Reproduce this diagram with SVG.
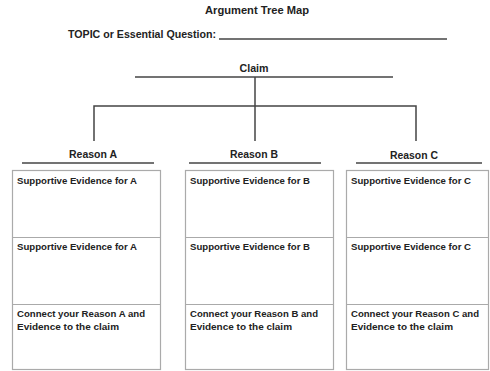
<svg xmlns="http://www.w3.org/2000/svg" width="490" height="371" viewBox="0 0 490 371">
<style>
text{font-family:"Liberation Sans",Arial,sans-serif;font-weight:bold;fill:#222;}
.h{font-size:10.5px;text-anchor:middle;}
.t{font-size:9.2px;}
.ln{stroke:#444;stroke-width:1.5;fill:none;}
.bx{stroke:#aaa;stroke-width:1.2;fill:#fff;}
</style>
<rect width="490" height="371" fill="#fff"/>
<g id="title">
<text class="h" x="257" y="14" textLength="104" lengthAdjust="spacingAndGlyphs">Argument Tree Map</text>
<text x="68" y="38" font-size="10.5" textLength="148" lengthAdjust="spacingAndGlyphs">TOPIC or Essential Question:</text>
<line class="ln" x1="219" y1="39" x2="447" y2="39"/>
</g>
<g id="claim">
<text class="h" x="254" y="72" textLength="29" lengthAdjust="spacingAndGlyphs">Claim</text>
<line class="ln" x1="135" y1="77" x2="393" y2="77"/>
</g>
<g id="connectors">
<line class="ln" x1="255" y1="77" x2="255" y2="141"/>
<polyline class="ln" points="94,141 94,106 416,106 416,141"/>
</g>
<g id="reasonA">
<text class="h" x="93" y="158" textLength="48" lengthAdjust="spacingAndGlyphs">Reason A</text>
<line class="ln" x1="22" y1="163" x2="154" y2="163"/>
<rect class="bx" x="12.5" y="170.5" width="148" height="199"/>
<line class="bx" x1="12.5" y1="237.5" x2="160.5" y2="237.5"/>
<line class="bx" x1="12.5" y1="304.5" x2="160.5" y2="304.5"/>
<text class="t" x="17" y="184" textLength="120" lengthAdjust="spacingAndGlyphs">Supportive Evidence for A</text>
<text class="t" x="17" y="250" textLength="120" lengthAdjust="spacingAndGlyphs">Supportive Evidence for A</text>
<text class="t" x="17" y="317" textLength="128" lengthAdjust="spacingAndGlyphs">Connect your Reason A and</text>
<text class="t" x="17" y="330" textLength="102" lengthAdjust="spacingAndGlyphs">Evidence to the claim</text>
</g>
<g id="reasonB">
<text class="h" x="254" y="158" textLength="48" lengthAdjust="spacingAndGlyphs">Reason B</text>
<line class="ln" x1="189" y1="163" x2="321" y2="163"/>
<rect class="bx" x="185.5" y="170.5" width="148" height="199"/>
<line class="bx" x1="185.5" y1="237.5" x2="333.5" y2="237.5"/>
<line class="bx" x1="185.5" y1="304.5" x2="333.5" y2="304.5"/>
<text class="t" x="190" y="184" textLength="120" lengthAdjust="spacingAndGlyphs">Supportive Evidence for B</text>
<text class="t" x="190" y="250" textLength="120" lengthAdjust="spacingAndGlyphs">Supportive Evidence for B</text>
<text class="t" x="190" y="317" textLength="128" lengthAdjust="spacingAndGlyphs">Connect your Reason B and</text>
<text class="t" x="190" y="330" textLength="102" lengthAdjust="spacingAndGlyphs">Evidence to the claim</text>
</g>
<g id="reasonC">
<text class="h" x="414" y="159" textLength="48" lengthAdjust="spacingAndGlyphs">Reason C</text>
<line class="ln" x1="356" y1="163" x2="482" y2="163"/>
<rect class="bx" x="346.5" y="170.5" width="142" height="199"/>
<line class="bx" x1="346.5" y1="237.5" x2="488.5" y2="237.5"/>
<line class="bx" x1="346.5" y1="304.5" x2="488.5" y2="304.5"/>
<text class="t" x="351" y="184" textLength="120" lengthAdjust="spacingAndGlyphs">Supportive Evidence for C</text>
<text class="t" x="351" y="250" textLength="120" lengthAdjust="spacingAndGlyphs">Supportive Evidence for C</text>
<text class="t" x="351" y="317" textLength="128" lengthAdjust="spacingAndGlyphs">Connect your Reason C and</text>
<text class="t" x="351" y="330" textLength="102" lengthAdjust="spacingAndGlyphs">Evidence to the claim</text>
</g>
</svg>
